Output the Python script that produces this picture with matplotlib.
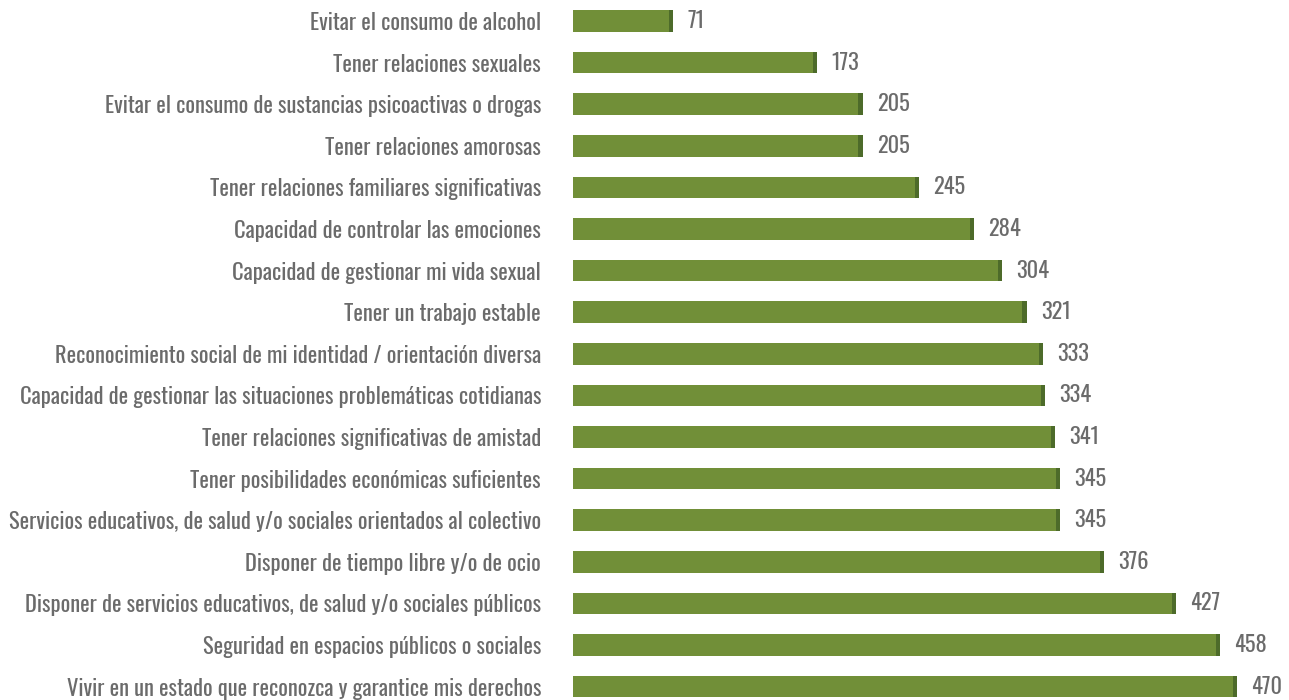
import matplotlib
matplotlib.use("Agg")
import matplotlib.pyplot as plt

# tall condensed light face for all labels, with plain fallbacks
plt.rcParams["font.family"] = ["Oswald", "Roboto Condensed", "DejaVu Sans"]
plt.rcParams["font.weight"] = 200

categorias = [
    "Evitar el consumo de alcohol",
    "Tener relaciones sexuales",
    "Evitar el consumo de sustancias psicoactivas o drogas",
    "Tener relaciones amorosas",
    "Tener relaciones familiares significativas",
    "Capacidad de controlar las emociones",
    "Capacidad de gestionar mi vida sexual",
    "Tener un trabajo estable",
    "Reconocimiento social de mi identidad / orientación diversa",
    "Capacidad de gestionar las situaciones problemáticas cotidianas",
    "Tener relaciones significativas de amistad",
    "Tener posibilidades económicas suficientes",
    "Servicios educativos, de salud y/o sociales orientados al colectivo",
    "Disponer de tiempo libre y/o de ocio",
    "Disponer de servicios educativos, de salud y/o sociales públicos",
    "Seguridad en espacios públicos o sociales",
    "Vivir en un estado que reconozca y garantice mis derechos",
]
valores = [71, 173, 205, 205, 245, 284, 304, 321, 333, 334, 341, 345, 345, 376, 427, 458, 470]

verde = "#718f38"
verde_osc = "#4d6b2a"
gris = "#6b6b6b"

W, H = 1289, 700
fig = plt.figure(figsize=(W / 100, H / 100), dpi=100)
x0 = 573 / W
ax = fig.add_axes([x0, 0, 1 - x0, 1])

paso = 41.6
y = list(range(len(categorias)))
ax.barh(y, valores, height=0.52, color=verde)
# darker end cap on each bar
borde = 3.0
ax.barh(y, [borde] * len(valores), left=[v - borde for v in valores],
        height=0.52, color=verde_osc)

for yi, v in zip(y, valores):
    ax.text(v + 10, yi, f"{v}", va="center", ha="left", fontsize=16.2, color=gris)

ax.set_xlim(0, (W - 573) / 1.4128)
ax.set_ylim((H - 21) / paso, -21 / paso)
ax.set_yticks(y)
ax.set_yticklabels(categorias, fontsize=16.2, color=gris)
ax.tick_params(axis="y", length=0, pad=23)
ax.set_xticks([])
for s in ax.spines.values():
    s.set_visible(False)

fig.savefig("out.png", dpi=100)
